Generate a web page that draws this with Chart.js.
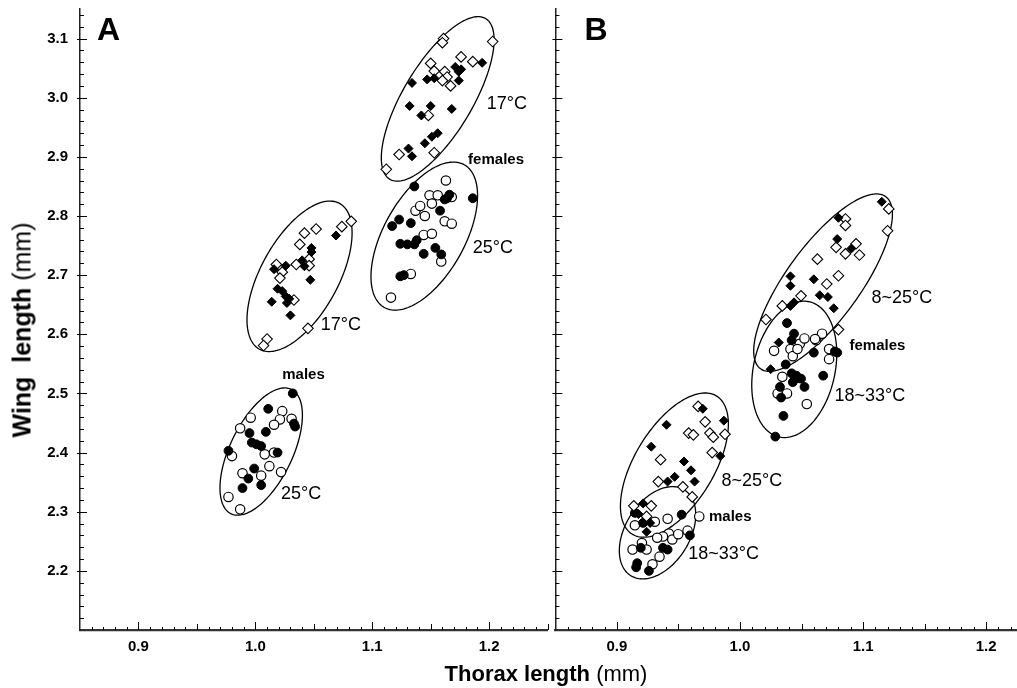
<!DOCTYPE html>
<html>
<head>
<meta charset="utf-8">
<script src="https://cdn.jsdelivr.net/npm/chart.js@4.4.1/dist/chart.umd.min.js"></script>
<style>
  html, body { margin: 0; padding: 0; background: #fff; }
  #wrap { position: relative; width: 1017px; height: 688px; overflow: hidden;
          font-family: 'Liberation Sans', Arial, sans-serif; color: #000; }
  canvas { position: absolute; top: 0; }
  #chartA { left: 0; }
  #chartB { left: 549px; }
  .ytitle { position: absolute; left: 22px; top: 330px; white-space: nowrap; font-size: 25px;
            transform: translate(-50%, -50%) rotate(-90deg); }
  .xtitle { position: absolute; left: 546px; top: 674px; white-space: nowrap; font-size: 22px;
            transform: translate(-50%, -50%); }
</style>
</head>
<body>
<div id="wrap">
  <canvas id="chartA" width="554" height="688"></canvas>
  <canvas id="chartB" width="476" height="688"></canvas>
  <div class="ytitle"><b>Wing&nbsp; length</b> (mm)</div>
  <div class="xtitle"><b>Thorax length</b> (mm)</div>
</div>
<script>
// ---- axes ----
var X_TICKS = [0.9, 1.0, 1.1, 1.2];
var Y_TICKS = [2.2, 2.3, 2.4, 2.5, 2.6, 2.7, 2.8, 2.9, 3.0, 3.1];

// ---- panel A: constant temperatures (17°C / 25°C) ----
var aFem17Open = [[1.161,3.100],[1.160,3.093],[1.203,3.095],[1.150,3.058],[1.186,3.061],[1.176,3.069],[1.153,3.045],[1.162,3.044],[1.164,3.035],[1.160,3.029],[1.167,3.020],[1.148,2.970],[1.153,2.907],[1.123,2.904],[1.112,2.879]];
var aFem17Filled = [[1.194,3.059],[1.134,3.025],[1.147,3.031],[1.153,3.033],[1.171,3.052],[1.174,3.044],[1.174,3.029],[1.176,3.048],[1.132,2.986],[1.150,2.986],[1.168,2.981],[1.142,2.970],[1.131,2.914],[1.134,2.901],[1.145,2.923],[1.151,2.934],[1.156,2.940]];
var aFem25Open = [[1.116,2.662],[1.133,2.702],[1.137,2.809],[1.141,2.817],[1.145,2.800],[1.149,2.835],[1.151,2.821],[1.156,2.835],[1.163,2.860],[1.168,2.832],[1.162,2.791],[1.168,2.787],[1.144,2.768],[1.151,2.770],[1.159,2.723]];
var aFem25Filled = [[1.136,2.850],[1.186,2.830],[1.117,2.783],[1.123,2.794],[1.133,2.788],[1.124,2.753],[1.130,2.752],[1.136,2.752],[1.138,2.759],[1.144,2.736],[1.154,2.746],[1.159,2.735],[1.158,2.809],[1.164,2.830],[1.166,2.836],[1.124,2.698],[1.127,2.700],[1.162,2.828]];
var aMale17Open = [[1.082,2.791],[1.074,2.782],[1.052,2.778],[1.042,2.771],[1.038,2.752],[1.046,2.727],[1.046,2.716],[1.035,2.718],[1.018,2.718],[1.023,2.705],[1.021,2.695],[1.033,2.658],[1.045,2.610],[1.010,2.592],[1.007,2.581]];
var aMale17Filled = [[1.069,2.767],[1.048,2.746],[1.048,2.739],[1.040,2.725],[1.042,2.715],[1.047,2.692],[1.016,2.710],[1.026,2.716],[1.014,2.655],[1.019,2.677],[1.023,2.673],[1.026,2.664],[1.027,2.653],[1.029,2.660],[1.030,2.632]];
var aMale25Open = [[0.996,2.459],[0.987,2.441],[0.980,2.394],[1.023,2.470],[1.021,2.456],[1.016,2.447],[1.031,2.457],[1.016,2.400],[1.008,2.397],[1.012,2.377],[1.005,2.361],[0.989,2.365],[1.022,2.367],[0.977,2.325],[0.987,2.304]];
var aMale25Filled = [[1.032,2.500],[1.011,2.474],[0.995,2.433],[0.997,2.417],[1.001,2.414],[1.005,2.411],[1.009,2.435],[1.019,2.400],[0.977,2.403],[0.999,2.373],[0.994,2.356],[0.989,2.340],[1.005,2.345],[1.034,2.444],[1.033,2.449]];

// ---- panel B: fluctuating temperatures (8~25°C / 18~33°C) ----
var bFem825Open = [[1.0857,2.795],[1.0857,2.784],[1.1209,2.812],[1.1199,2.775],[1.0943,2.753],[1.0971,2.734],[1.0857,2.736],[1.0781,2.747],[1.0629,2.727],[1.0800,2.699],[1.0705,2.685],[1.0496,2.665],[1.0344,2.648],[1.0211,2.625],[1.0800,2.608]];
var bFem825Filled = [[1.1152,2.824],[1.0800,2.797],[1.0790,2.761],[1.0905,2.745],[1.0410,2.698],[1.0410,2.682],[1.0600,2.693],[1.0648,2.666],[1.0714,2.663],[1.0762,2.644],[1.0439,2.654],[1.0410,2.648],[1.0315,2.586],[1.0249,2.541]];
var bFem1833Open = [[1.0277,2.572],[1.0410,2.575],[1.0486,2.584],[1.0524,2.593],[1.0619,2.590],[1.0667,2.601],[1.0724,2.575],[1.0724,2.558],[1.0429,2.563],[1.0344,2.528],[1.0306,2.500],[1.0382,2.500],[1.0543,2.482],[1.0610,2.592],[1.0467,2.575]];
var bFem1833Filled = [[1.0382,2.619],[1.0439,2.601],[1.0420,2.590],[1.0372,2.549],[1.0420,2.534],[1.0458,2.530],[1.0429,2.519],[1.0467,2.526],[1.0325,2.511],[1.0334,2.493],[1.0524,2.511],[1.0676,2.530],[1.0600,2.569],[1.0790,2.569],[1.0771,2.571],[1.0353,2.462],[1.0287,2.427],[1.0496,2.525]];
var bMale825Open = [[0.9660,2.478],[0.9717,2.452],[0.9755,2.433],[0.9783,2.426],[0.9878,2.431],[0.9774,2.400],[0.9583,2.433],[0.9621,2.430],[0.9355,2.388],[0.9336,2.351],[0.9536,2.342],[0.9612,2.325],[0.9137,2.310],[0.9279,2.310],[0.9241,2.292]];
var bMale825Filled = [[0.9698,2.474],[0.9869,2.454],[0.9403,2.447],[0.9279,2.410],[0.9840,2.394],[0.9545,2.385],[0.9602,2.370],[0.9631,2.351],[0.9469,2.359],[0.9412,2.351],[0.9213,2.314],[0.9175,2.296],[0.9270,2.281],[0.9241,2.266]];
var bMale1833Open = [[0.9669,2.292],[0.9412,2.288],[0.9308,2.283],[0.9146,2.277],[0.9574,2.268],[0.9422,2.263],[0.9374,2.258],[0.9327,2.256],[0.9450,2.253],[0.9203,2.247],[0.9127,2.236],[0.9241,2.236],[0.9346,2.224],[0.9289,2.211],[0.9498,2.262]];
var bMale1833Filled = [[0.9526,2.295],[0.9593,2.260],[0.9194,2.239],[0.9374,2.239],[0.9412,2.236],[0.9165,2.213],[0.9156,2.206],[0.9260,2.200],[0.9213,2.281],[0.9146,2.298]];

// ---- ellipses: centre and two conjugate half-axes, in data units ----
var ellipsesA = [
  { c: [1.1560, 2.998], u: [0.0412, 0.1356], v: [0.0251, -0.0310] },
  { c: [1.1445, 2.766], u: [0.0345, 0.1203], v: [0.0298, -0.0347] },
  { c: [1.0378, 2.698], u: [0.0346, 0.1229], v: [0.0287, -0.0329] },
  { c: [1.0050, 2.4017], u: [0.0261, 0.1049], v: [0.0237, -0.0241] }
];
var ellipsesB = [
  { c: [1.0675, 2.6873], u: [0.0510, 0.1453], v: [0.0240, -0.0373] },
  { c: [1.0441, 2.5407], u: [0.0125, 0.1142], v: [0.0322, -0.0158] },
  { c: [0.9467, 2.3788], u: [0.0344, 0.1166], v: [0.0272, -0.0356] },
  { c: [0.9330, 2.2644], u: [0.0220, 0.0722], v: [0.0219, -0.0295] }
];

// ---- annotations ----
var notesA = [
  { t: 'A', x: 0.8645, y: 3.113, size: 32, bold: true },
  { t: '17°C', x: 1.198, y: 2.990 },
  { t: 'females', x: 1.182, y: 2.895, bold: true },
  { t: '25°C', x: 1.186, y: 2.746 },
  { t: '17°C', x: 1.056, y: 2.616 },
  { t: 'males', x: 1.023, y: 2.531, bold: true },
  { t: '25°C', x: 1.022, y: 2.330 }
];
var notesB = [
  { t: 'B', x: 0.8736, y: 3.113, size: 32, bold: true },
  { t: '8~25°C', x: 1.1069, y: 2.662 },
  { t: 'females', x: 1.0890, y: 2.5805, bold: true },
  { t: '18~33°C', x: 1.0768, y: 2.496 },
  { t: '8~25°C', x: 0.9850, y: 2.352 },
  { t: 'males', x: 0.9748, y: 2.291, bold: true },
  { t: '18~33°C', x: 0.9580, y: 2.2286 }
];

var FONT = "'Liberation Sans', Arial, sans-serif";

function pts(arr) {
  return arr.map(function (p) { return { x: p[0], y: p[1] }; });
}

// marker styles
function openCircle(data) {
  return { data: pts(data), pointStyle: 'circle', pointRadius: 4.7, backgroundColor: '#fff', borderColor: '#000', borderWidth: 1.2 };
}
function filledCircle(data) {
  return { data: pts(data), pointStyle: 'circle', pointRadius: 4.4, backgroundColor: '#000', borderColor: '#000', borderWidth: 1 };
}
function openDiamond(data) {
  return { data: pts(data), pointStyle: 'rectRot', pointRadius: 5.3, backgroundColor: '#fff', borderColor: '#000', borderWidth: 1.1 };
}
function filledDiamond(data) {
  return { data: pts(data), pointStyle: 'rectRot', pointRadius: 4.5, backgroundColor: '#000', borderColor: '#000', borderWidth: 1 };
}

// ellipses under the markers
var ellipsePlugin = {
  id: 'ellipses',
  beforeDatasetsDraw: function (chart, args, opts) {
    var ctx = chart.ctx, x = chart.scales.x, y = chart.scales.y;
    ctx.save();
    ctx.strokeStyle = '#000';
    ctx.lineWidth = 1.3;
    (opts.items || []).forEach(function (e) {
      ctx.beginPath();
      for (var i = 0; i <= 160; i++) {
        var t = i / 160 * Math.PI * 2;
        var dx = e.c[0] + e.u[0] * Math.cos(t) + e.v[0] * Math.sin(t);
        var dy = e.c[1] + e.u[1] * Math.cos(t) + e.v[1] * Math.sin(t);
        var px = x.getPixelForValue(dx), py = y.getPixelForValue(dy);
        if (i === 0) ctx.moveTo(px, py); else ctx.lineTo(px, py);
      }
      ctx.closePath();
      ctx.stroke();
    });
    ctx.restore();
  }
};

// text labels on the plot
var notePlugin = {
  id: 'notes',
  afterDatasetsDraw: function (chart, args, opts) {
    var ctx = chart.ctx, x = chart.scales.x, y = chart.scales.y;
    ctx.save();
    ctx.fillStyle = '#000';
    ctx.textAlign = 'left';
    ctx.textBaseline = 'middle';
    (opts.items || []).forEach(function (n) {
      var size = n.size || (n.bold ? 15 : 18);
      ctx.font = (n.bold ? 'bold ' : '') + size + 'px ' + FONT;
      ctx.fillText(n.t, x.getPixelForValue(n.x), y.getPixelForValue(n.y));
    });
    ctx.restore();
  }
};

// inward tick marks: x every 0.01, y every 0.02
var tickPlugin = {
  id: 'inTicks',
  afterDraw: function (chart) {
    var ctx = chart.ctx, a = chart.chartArea, x = chart.scales.x, y = chart.scales.y;
    ctx.save();
    ctx.strokeStyle = '#000';
    ctx.lineWidth = 1;
    var i, p, len;
    for (i = Math.ceil(x.min * 100 + 1e-6); i <= Math.floor(x.max * 100 + 1e-6); i++) {
      p = Math.round(x.getPixelForValue(i / 100)) + 0.5;
      len = i % 10 === 0 ? 8 : (i % 5 === 0 ? 6 : 3);
      ctx.beginPath(); ctx.moveTo(p, a.bottom); ctx.lineTo(p, a.bottom - len); ctx.stroke();
    }
    for (i = Math.ceil(y.min * 50 + 1e-6); i <= Math.floor(y.max * 50 + 1e-6); i++) {
      p = Math.round(y.getPixelForValue(i / 50)) + 0.5;
      len = i % 5 === 0 ? 7 : 4;
      ctx.beginPath(); ctx.moveTo(a.left - (i % 5 === 0 ? 3 : 0), p); ctx.lineTo(a.left + len, p); ctx.stroke();
    }
    ctx.restore();
  }
};

function makePanel(id, datasets, ellipses, notes, showY, xMax) {
  return new Chart(document.getElementById(id), {
    type: 'scatter',
    data: { datasets: datasets },
    plugins: [ellipsePlugin, notePlugin, tickPlugin],
    options: {
      responsive: false,
      animation: false,
      devicePixelRatio: 1,
      layout: { padding: { top: 9, right: 0, left: 0, bottom: 0 } },
      plugins: {
        legend: { display: false },
        tooltip: { enabled: false },
        ellipses: { items: ellipses },
        notes: { items: notes }
      },
      scales: {
        x: {
          type: 'linear', min: 0.85, max: xMax,
          afterBuildTicks: function (s) { s.ticks = X_TICKS.map(function (v) { return { value: v }; }); },
          afterFit: function (s) { s.height = 58; s.paddingLeft = 0; s.paddingRight = 0; },
          grid: { display: false, drawTicks: false, tickLength: 0 },
          border: { display: true, color: '#333', width: 2.2 },
          ticks: {
            color: '#000', padding: 8, autoSkip: false, maxRotation: 0,
            font: { family: FONT, size: 15, weight: 'bold' },
            callback: function (v) { return v.toFixed(1); }
          }
        },
        y: {
          type: 'linear', min: 2.1, max: 3.15,
          afterBuildTicks: function (s) { s.ticks = Y_TICKS.map(function (v) { return { value: v }; }); },
          afterFit: function (s) { s.width = showY ? 80 : 3; s.paddingTop = 0; s.paddingBottom = 0; },
          grid: { display: false, drawTicks: false, tickLength: 0 },
          border: { display: true, color: '#222', width: 1.5 },
          ticks: {
            display: showY, color: '#000', padding: 12,
            font: { family: FONT, size: 15, weight: 'bold' },
            callback: function (v) { return v.toFixed(1); }
          }
        }
      }
    }
  });
}

makePanel('chartA', [
  filledDiamond(aFem17Filled), openDiamond(aFem17Open),
  filledCircle(aFem25Filled), openCircle(aFem25Open),
  filledDiamond(aMale17Filled), openDiamond(aMale17Open),
  filledCircle(aMale25Filled), openCircle(aMale25Open)
], ellipsesA, notesA, true, 1.25);

makePanel('chartB', [
  filledDiamond(bFem825Filled), openDiamond(bFem825Open),
  filledCircle(bFem1833Filled), openCircle(bFem1833Open),
  filledDiamond(bMale825Filled), openDiamond(bMale825Open),
  filledCircle(bMale1833Filled), openCircle(bMale1833Open)
], ellipsesB, notesB, false, 1.2264);
</script>
</body>
</html>
